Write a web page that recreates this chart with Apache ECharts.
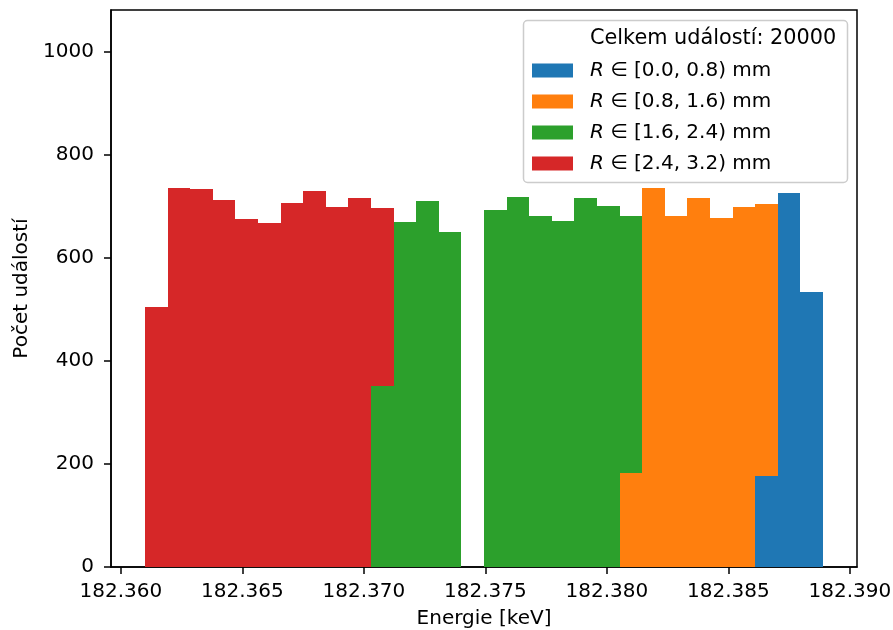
<!DOCTYPE html>
<html>
<head>
<meta charset="utf-8">
<script src="https://cdn.jsdelivr.net/npm/echarts@6/dist/echarts.min.js"></script>
<style>
  html, body { margin: 0; padding: 0; background: #fff; }
  #chart { width: 893px; height: 630px; }
</style>
</head>
<body>
<div id="chart"></div>
<script>
// Histogram binning (keV)
const binStart = 182.36099;
const binEnd = 182.38890;
const binCount = 30;

// Series names, one per radius band
const seriesNames = [
  'R ∈ [0.0, 0.8) mm',
  'R ∈ [0.8, 1.6) mm',
  'R ∈ [1.6, 2.4) mm',
  'R ∈ [2.4, 3.2) mm'
];
const totalLabel = 'Celkem událostí: 20000';

// Counts per bin for each radius band (stacked in this order)
const countsR0 = [0, 0, 0, 0, 0, 0, 0, 0, 0, 0, 0, 0, 0, 0, 0, 0, 0, 0, 0, 0, 0, 0, 0, 0, 0, 0, 0, 177, 726, 534];
const countsR1 = [0, 0, 0, 0, 0, 0, 0, 0, 0, 0, 0, 0, 0, 0, 0, 0, 0, 0, 0, 0, 0, 183, 736, 682, 716, 677, 699, 527, 0, 0];
const countsR2 = [0, 0, 0, 0, 0, 0, 0, 0, 0, 0, 351, 670, 710, 651, 0, 693, 718, 681, 671, 717, 700, 499, 0, 0, 0, 0, 0, 0, 0, 0];
const countsR3 = [504, 736, 734, 712, 675, 667, 706, 729, 699, 717, 346, 0, 0, 0, 0, 0, 0, 0, 0, 0, 0, 0, 0, 0, 0, 0, 0, 0, 0, 0];

// Tick values
const xTicks = [182.360, 182.365, 182.370, 182.375, 182.380, 182.385, 182.390];
const yTicks = [0, 200, 400, 600, 800, 1000];
const yMax = 1081;

const colors = ['#1f77b4', '#ff7f0e', '#2ca02c', '#d62728'];
const FONT = 'DejaVu Sans';

// Bin edges and axis range with 5% padding around the data
const binWidth = (binEnd - binStart) / binCount;
const pad = 0.05 * (binEnd - binStart);
const xMin = binStart - pad;
const xMax = binEnd + pad;

// Build stacked rectangles: [left edge, right edge, bottom, top]
const allCounts = [countsR0, countsR1, countsR2, countsR3];
const base = new Array(binCount).fill(0);
const stackedData = allCounts.map(function (counts) {
  const rows = [];
  counts.forEach(function (c, i) {
    if (c > 0) {
      const x0 = binStart + i * binWidth;
      rows.push([x0, x0 + binWidth, base[i], base[i] + c]);
    }
    base[i] += c;
  });
  return rows;
});

// Rectangles snapped to whole pixels so neighbouring bins join without seams
function renderBin(params, api) {
  const topLeft = api.coord([api.value(0), api.value(3)]);
  const bottomRight = api.coord([api.value(1), api.value(2)]);
  const x0 = Math.round(topLeft[0]);
  const x1 = Math.round(bottomRight[0]);
  const y0 = Math.round(topLeft[1]);
  const y1 = Math.round(bottomRight[1]);
  return {
    type: 'rect',
    shape: { x: x0, y: y0, width: x1 - x0, height: y1 - y0 },
    style: { fill: api.visual('color') }
  };
}

const series = stackedData.map(function (rows, k) {
  return {
    name: seriesNames[k],
    type: 'custom',
    renderItem: renderBin,
    itemStyle: { color: colors[k] },
    encode: { x: [0, 1], y: [2, 3] },
    data: rows,
    z: 2
  };
});
// Label-only entry for the legend header
series.unshift({
  name: totalLabel,
  type: 'custom',
  renderItem: renderBin,
  itemStyle: { color: 'rgba(0,0,0,0)' },
  data: []
});

const chart = echarts.init(document.getElementById('chart'), null, { renderer: 'canvas' });

chart.setOption({
  animation: false,
  backgroundColor: '#ffffff',
  textStyle: { fontFamily: FONT, color: '#000' },
  grid: {
    left: 111, right: 36, top: 10, bottom: 63,
    containLabel: false,
    outerBoundsMode: 'none',
    show: true, borderColor: '#000', borderWidth: 1.5, backgroundColor: 'transparent'
  },
  xAxis: {
    type: 'value',
    min: xMin,
    max: xMax,
    name: 'Energie [keV]',
    nameLocation: 'middle',
    nameGap: 42,
    nameTextStyle: { fontSize: 20, color: '#000', fontFamily: FONT },
    axisLine: { show: true, onZero: false, lineStyle: { color: '#000', width: 1.5 } },
    axisTick: { show: true, length: 7, customValues: xTicks, lineStyle: { color: '#000', width: 1.5 } },
    axisLabel: {
      customValues: xTicks,
      formatter: function (v) { return v.toFixed(3); },
      fontSize: 20, color: '#000', fontFamily: FONT, margin: 15
    },
    splitLine: { show: false }
  },
  yAxis: {
    type: 'value',
    min: 0,
    max: yMax,
    name: 'Počet událostí',
    nameLocation: 'middle',
    nameGap: 71,
    nameTextStyle: { fontSize: 20, color: '#000', fontFamily: FONT },
    axisLine: { show: true, lineStyle: { color: '#000', width: 1.5 } },
    axisTick: { show: true, length: 7, customValues: yTicks, lineStyle: { color: '#000', width: 1.5 } },
    axisLabel: {
      customValues: yTicks,
      formatter: function (v) { return String(v); },
      fontSize: 20, color: '#000', fontFamily: FONT, margin: 17
    },
    splitLine: { show: false }
  },
  legend: {
    orient: 'vertical',
    left: 532,
    top: 28.5,
    padding: 0,
    itemWidth: 41,
    itemHeight: 14,
    itemGap: 11,
    icon: 'rect',
    selectedMode: false,
    data: [{ name: totalLabel, itemStyle: { color: 'rgba(0,0,0,0)' } }].concat(seriesNames),
    formatter: function (name) {
      if (name === totalLabel) return '{g|}{t|' + name + '}';
      return '{g|}{it|R}' + name.slice(1);
    },
    textStyle: {
      fontSize: 20, color: '#000', fontFamily: FONT, lineHeight: 20,
      rich: {
        g: { width: 12, lineHeight: 20 },
        t: { fontSize: 20.8, fontFamily: FONT, lineHeight: 20 },
        it: { fontStyle: 'italic', fontSize: 20, fontFamily: FONT, lineHeight: 20 }
      }
    }
  },
  graphic: [{
    type: 'rect',
    z: 3,
    shape: { x: 523.5, y: 20.5, width: 324, height: 162, r: 4 },
    style: { fill: 'rgba(255,255,255,0.8)', stroke: '#cccccc', lineWidth: 1.5 }
  }],
  series: series
});
</script>
</body>
</html>
